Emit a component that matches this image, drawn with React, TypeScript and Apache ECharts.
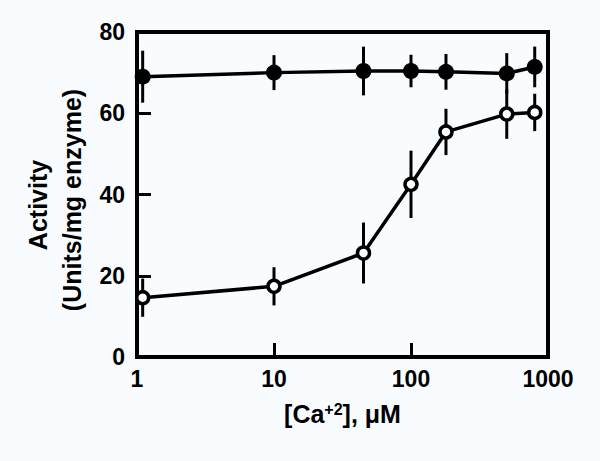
import React, { useEffect, useRef } from "react";
import * as echarts from "echarts";

const concentrations = [1.1, 10, 45, 100, 180, 500, 800];
const filledValues = [69.0, 70.0, 70.4, 70.4, 70.2, 69.8, 71.4];
const filledErrors = [6.4, 4.3, 6.0, 4.0, 4.4, 5.0, 5.0];
const openValues = [14.6, 17.4, 25.6, 42.5, 55.4, 59.8, 60.2];
const openErrors = [4.7, 4.7, 7.5, 8.3, 5.7, 6.1, 4.6];
const yTicks = [0, 20, 40, 60, 80];
const xTicks = [1, 10, 100, 1000];
const yTitleLines = ["Activity", "(Units/mg enzyme)"];

const FONT = "'Liberation Sans', Arial, Helvetica, sans-serif";

function errorData(values: number[], errs: number[]) {
  return concentrations.map((c, i) => [c, values[i] - errs[i], values[i] + errs[i]]);
}

function renderErrorBar(_params: any, api: any) {
  const x = api.value(0);
  const lo = api.coord([x, api.value(1)]);
  const hi = api.coord([x, api.value(2)]);
  return {
    type: "line",
    shape: { x1: lo[0], y1: lo[1], x2: hi[0], y2: hi[1] },
    style: { stroke: "#000", lineWidth: 3 },
  };
}

export default function App() {
  const ref = useRef<HTMLDivElement>(null);
  useEffect(() => {
    if (!ref.current) return;
    const chart = echarts.init(ref.current, undefined, { renderer: "svg" });
    const titleStyle = {
      fontSize: 25,
      fontWeight: "bold",
      fill: "#000",
      fontFamily: FONT,
      align: "center",
      verticalAlign: "middle",
    };
    chart.setOption({
      animation: false,
      backgroundColor: "#f8fcfe",
      textStyle: { fontFamily: FONT },
      grid: {
        left: 137,
        right: 52,
        top: 32,
        bottom: 104,
        show: true,
        borderColor: "#000",
        borderWidth: 4,
        backgroundColor: "transparent",
      },
      graphic: [
        {
          type: "text",
          x: 38,
          y: 205,
          rotation: Math.PI / 2,
          style: { ...titleStyle, text: yTitleLines[0] },
        },
        {
          type: "text",
          x: 72,
          y: 200,
          rotation: Math.PI / 2,
          style: { ...titleStyle, text: yTitleLines[1] },
        },
      ],
      xAxis: {
        type: "log",
        logBase: 10,
        min: xTicks[0],
        max: xTicks[xTicks.length - 1],
        name: "[Ca{sup|+2}], μM",
        nameLocation: "middle",
        nameGap: 44,
        nameTextStyle: {
          fontSize: 25,
          fontWeight: "bold",
          color: "#000",
          fontFamily: FONT,
          rich: {
            sup: {
              fontSize: 16,
              fontWeight: "bold",
              color: "#000",
              verticalAlign: "top",
              padding: [0, 0, 10, 0],
              fontFamily: FONT,
            },
          },
        },
        axisLine: { show: true, lineStyle: { color: "#000", width: 4 } },
        axisTick: { show: true, inside: true, length: 14, lineStyle: { color: "#000", width: 3 } },
        minorTick: { show: false },
        splitLine: { show: false },
        axisLabel: {
          color: "#000",
          fontSize: 23,
          fontWeight: "bold",
          fontFamily: FONT,
          margin: 10,
          formatter: (v: number) => String(Math.round(v)),
        },
      },
      yAxis: {
        type: "value",
        min: yTicks[0],
        max: yTicks[yTicks.length - 1],
        interval: 20,
        axisLine: { show: true, lineStyle: { color: "#000", width: 4 } },
        axisTick: { show: true, inside: true, length: 14, lineStyle: { color: "#000", width: 3 } },
        splitLine: { show: false },
        axisLabel: {
          color: "#000",
          fontSize: 23,
          fontWeight: "bold",
          fontFamily: FONT,
          margin: 12,
        },
      },
      series: [
        {
          type: "custom",
          name: "filledErr",
          z: 1,
          renderItem: renderErrorBar,
          encode: { x: 0, y: [1, 2] },
          data: errorData(filledValues, filledErrors),
        },
        {
          type: "custom",
          name: "openErr",
          z: 1,
          renderItem: renderErrorBar,
          encode: { x: 0, y: [1, 2] },
          data: errorData(openValues, openErrors),
        },
        {
          type: "line",
          name: "filled",
          z: 3,
          data: concentrations.map((c, i) => [c, filledValues[i]]),
          symbol: "circle",
          symbolSize: 16,
          lineStyle: { color: "#000", width: 3.5 },
          itemStyle: { color: "#000", borderColor: "#000", borderWidth: 0 },
        },
        {
          type: "line",
          name: "open",
          z: 3,
          data: concentrations.map((c, i) => [c, openValues[i]]),
          symbol: "circle",
          symbolSize: 12,
          lineStyle: { color: "#000", width: 3.5 },
          itemStyle: { color: "#fff", borderColor: "#000", borderWidth: 3.5 },
        },
      ],
    });
    return () => chart.dispose();
  }, []);
  return (
    <div
      ref={ref}
      style={{ position: "absolute", left: 0, top: 0, width: 600, height: 461 }}
    />
  );
}
